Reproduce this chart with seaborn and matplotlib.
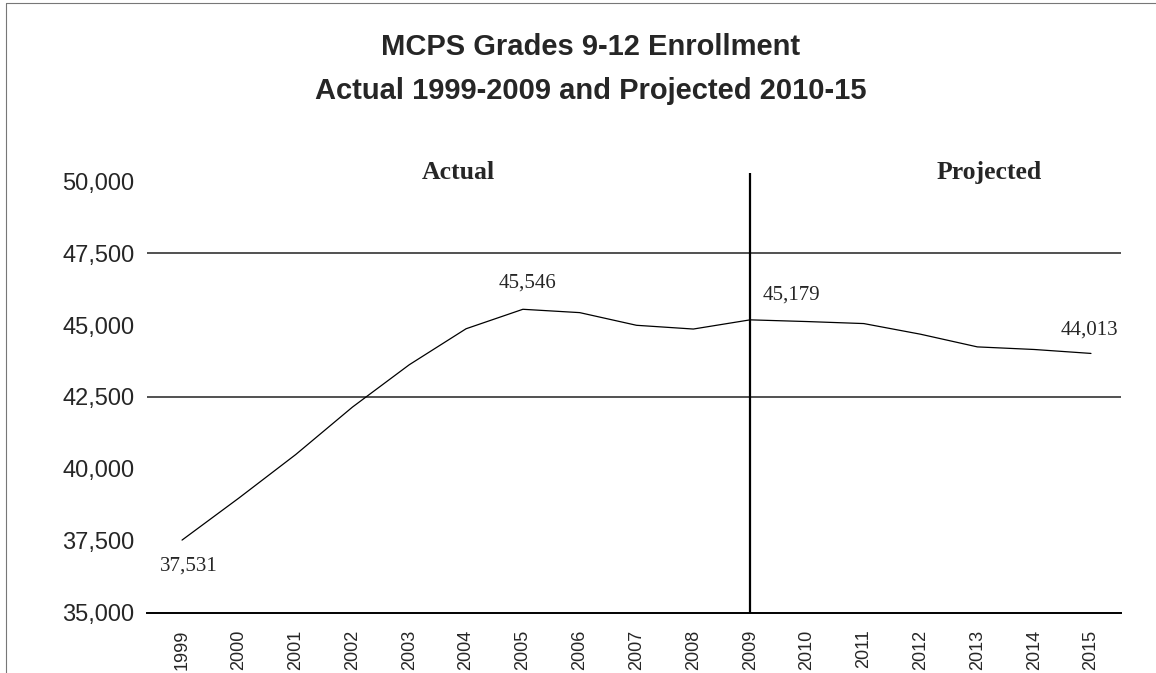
import matplotlib
matplotlib.use('Agg')
import matplotlib.pyplot as plt
from matplotlib.lines import Line2D
import seaborn as sns

years = list(range(1999, 2016))
enrollment = [37531, 38990, 40500, 42150, 43620, 44870, 45546, 45430, 44990,
              44860, 45179, 45120, 45050, 44680, 44240, 44150, 44013]

y_ticks = [35000, 37500, 40000, 42500, 45000, 47500, 50000]
grid_levels = [42500, 47500]
split_year = 2009

# labelled points: year -> offset of the label in points
labelled = {1999: (5, -19), 2005: (3, 19), 2009: (29.5, 17.6), 2015: (-1.4, 16.5)}

sns.set_style("white")
plt.rcParams['font.family'] = ['Liberation Sans', 'DejaVu Sans']

fig = plt.figure(figsize=(11.56, 6.73), dpi=100)
ax = fig.add_axes([0.1272, 0.0892, 0.8425, 0.6538])

for g in grid_levels:
    ax.axhline(g, color='#222222', lw=1.1, zorder=1)

sns.lineplot(x=years, y=enrollment, ax=ax, color='black', lw=0.9, zorder=3)

ax.axvline(split_year, color='black', lw=1.6, zorder=2)

ax.set_xlim(1998.384, 2015.528)
ax.set_ylim(35000, 50280)

ax.set_yticks(y_ticks)
ax.set_yticklabels([f"{v:,}" for v in y_ticks], fontsize=17)
ax.set_xticks(years)
ax.set_xticklabels([str(y) for y in years], rotation=90, fontsize=13)
ax.tick_params(axis='y', direction='in', length=6, width=0.8, pad=9, color='#333333')
ax.tick_params(axis='x', length=0, pad=12)

for s in ['top', 'right', 'left']:
    ax.spines[s].set_visible(False)
ax.spines['bottom'].set_color('black')
ax.spines['bottom'].set_linewidth(1.4)
ax.set_xlabel('')
ax.set_ylabel('')

for yr, off in labelled.items():
    v = enrollment[years.index(yr)]
    ax.annotate(f"{v:,}", xy=(yr, v), xytext=off, textcoords='offset points',
                ha='center', va='center', fontsize=15, family='Liberation Serif')

ax.text(2003.86, 50312, 'Actual', ha='center', va='center', fontsize=18.5,
        fontweight='bold', family='Liberation Serif', clip_on=False)
ax.text(2013.2, 50312, 'Projected', ha='center', va='center', fontsize=18.5,
        fontweight='bold', family='Liberation Serif', clip_on=False)

fig.text(591/1156, 1 - 47/673, 'MCPS Grades 9-12 Enrollment', ha='center', va='center',
         fontsize=21, fontweight='bold')
fig.text(591/1156, 1 - 91/673, 'Actual 1999-2009 and Projected 2010-15', ha='center',
         va='center', fontsize=21, fontweight='bold')

# scanned page frame
fig.add_artist(Line2D([6/1156, 6/1156], [0, 1 - 3/673], transform=fig.transFigure,
                      color='#777777', lw=0.8))
fig.add_artist(Line2D([6/1156, 1], [1 - 3/673, 1 - 3/673], transform=fig.transFigure,
                      color='#777777', lw=0.8))

fig.savefig('out.png', dpi=100)
